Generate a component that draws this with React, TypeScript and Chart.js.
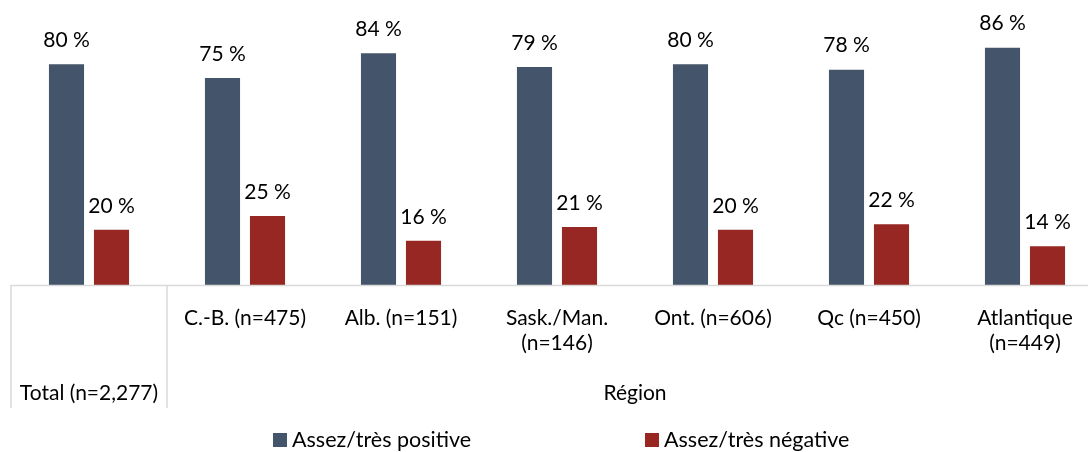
import React, { useEffect, useRef } from "react";
import { Chart, registerables } from "chart.js";

Chart.register(...registerables);

const categories: string[][] = [
  ["Total (n=2,277)"],
  ["C.-B. (n=475)"],
  ["Alb. (n=151)"],
  ["Sask./Man.", "(n=146)"],
  ["Ont. (n=606)"],
  ["Qc (n=450)"],
  ["Atlantique", "(n=449)"],
];
const positive = [80, 75, 84, 79, 80, 78, 86];
const negative = [20, 25, 16, 21, 20, 22, 14];
const seriesNames = ["Assez/très positive", "Assez/très négative"];
const groupLabel = "Région";

const BLUE = "#44546a";
const RED = "#962723";
const FONT = "Lato, 'Open Sans', sans-serif";

export default function App() {
  const ref = useRef<HTMLCanvasElement>(null);
  useEffect(() => {
    if (!ref.current) return;
    const overlay = {
      id: "overlay",
      afterDraw(chart: any) {
        const ctx = chart.ctx as CanvasRenderingContext2D;
        const x = chart.scales.x;
        const area = chart.chartArea;
        const base = area.bottom;
        ctx.save();
        // axis + separators
        ctx.strokeStyle = "#d9d9d9";
        ctx.lineWidth = 1.5;
        ctx.beginPath();
        ctx.moveTo(area.left, base + 0.5);
        ctx.lineTo(chart.width, base + 0.5);
        const sep = (x.getPixelForValue(0) + x.getPixelForValue(1)) / 2;
        ctx.moveTo(area.left, base);
        ctx.lineTo(area.left, base + 123);
        ctx.moveTo(sep, base);
        ctx.lineTo(sep, base + 123);
        ctx.stroke();

        ctx.fillStyle = "#000";
        ctx.font = `21px ${FONT}`;
        ctx.textAlign = "center";
        ctx.textBaseline = "middle";
        // category labels
        categories.forEach((lines, i) => {
          const cx = x.getPixelForValue(i);
          lines.forEach((ln, j) => {
            const y = i === 0 ? base + 108 : base + 33 + j * 25;
            ctx.fillText(ln, cx, y);
          });
        });
        // group label
        ctx.fillText(groupLabel, (sep + area.right) / 2, base + 108);

        // value labels
        chart.data.datasets.forEach((ds: any, di: number) => {
          const meta = chart.getDatasetMeta(di);
          meta.data.forEach((bar: any, i: number) => {
            ctx.fillText(`${ds.data[i]} %`, bar.x, bar.y - 24);
          });
        });

        // legend
        const items = [
          { name: seriesNames[0], color: BLUE, x: 273 },
          { name: seriesNames[1], color: RED, x: 645 },
        ];
        ctx.textAlign = "left";
        ctx.font = `21.5px ${FONT}`;
        items.forEach((it) => {
          ctx.fillStyle = it.color;
          ctx.fillRect(it.x, 433, 14, 14);
          ctx.fillStyle = "#000";
          ctx.fillText(it.name, it.x + 19, 440);
        });
        ctx.restore();
      },
    };
    const chart = new Chart(ref.current, {
      type: "bar",
      data: {
        labels: categories.map((c) => c.join(" ")),
        datasets: [
          { label: seriesNames[0], data: positive, backgroundColor: BLUE },
          { label: seriesNames[1], data: negative, backgroundColor: RED },
        ],
      },
      options: {
        animation: false,
        responsive: false,
        maintainAspectRatio: false,
        layout: { padding: { left: 11, right: 0, top: 9, bottom: 167 } },
        datasets: {
          bar: { categoryPercentage: 0.577, barPercentage: 0.78 },
        },
        plugins: {
          legend: { display: false },
          tooltip: { enabled: false },
        },
        scales: {
          x: { display: false },
          y: { display: false, min: 0, max: 100 },
        },
      },
      plugins: [overlay],
    });
    return () => chart.destroy();
  }, []);
  return (
    <div
      style={{
        position: "absolute",
        left: 0,
        top: 0,
        width: 1088,
        height: 452,
        overflow: "hidden",
        background: "#fff",
      }}
    >
      <canvas ref={ref} width={1103} height={452} style={{ display: "block" }} />
    </div>
  );
}
